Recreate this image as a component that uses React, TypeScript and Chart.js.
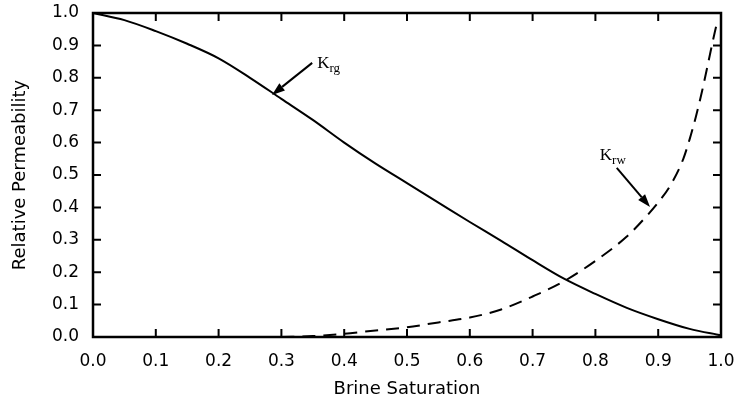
import { useEffect, useRef } from "react";
import { Chart, registerables } from "chart.js";

Chart.register(...registerables);

const xTicks = [0, 0.1, 0.2, 0.3, 0.4, 0.5, 0.6, 0.7, 0.8, 0.9, 1.0];
const yTicks = [0, 0.1, 0.2, 0.3, 0.4, 0.5, 0.6, 0.7, 0.8, 0.9, 1.0];

const krgX = [0, 0.05, 0.1, 0.15, 0.2, 0.25, 0.3, 0.35, 0.4, 0.45, 0.5, 0.55, 0.6, 0.65, 0.7, 0.75, 0.8, 0.85, 0.9, 0.95, 1.0];
const krgY = [1.0, 0.978, 0.944, 0.905, 0.86, 0.8, 0.735, 0.67, 0.6, 0.535, 0.475, 0.415, 0.355, 0.297, 0.237, 0.18, 0.133, 0.09, 0.055, 0.025, 0.005];

const krwX = [0.3, 0.35, 0.4, 0.45, 0.5, 0.55, 0.6, 0.65, 0.7, 0.75, 0.8, 0.85, 0.88, 0.9, 0.92, 0.94, 0.95, 0.96, 0.97, 0.98, 0.99, 0.995];
const krwY = [0.0, 0.003, 0.01, 0.02, 0.03, 0.045, 0.06, 0.085, 0.125, 0.172, 0.235, 0.31, 0.37, 0.415, 0.47, 0.55, 0.61, 0.68, 0.76, 0.85, 0.94, 0.98];

const xTitle = "Brine Saturation";
const yTitle = "Relative Permeability";

const krgNote = { main: "K", sub: "rg", lx: 0.357, ly: 0.83, fx: 0.349, fy: 0.846, tx: 0.285, ty: 0.747 };
const krwNote = { main: "K", sub: "rw", lx: 0.807, ly: 0.546, fx: 0.834, fy: 0.522, tx: 0.887, ty: 0.401 };

const framePlugin = {
  id: "frameTicks",
  afterDatasetsDraw(chart: any) {
    const { ctx, chartArea, scales } = chart;
    const { left, right, top, bottom } = chartArea;
    const x = scales.x;
    const y = scales.y;
    ctx.save();
    ctx.strokeStyle = "#000";
    ctx.lineWidth = 2.5;
    ctx.strokeRect(left, top, right - left, bottom - top);
    ctx.lineWidth = 2;
    const L = 8;
    ctx.beginPath();
    xTicks.forEach((v) => {
      if (v <= 0 || v >= 1) return;
      const px = x.getPixelForValue(v);
      ctx.moveTo(px, bottom);
      ctx.lineTo(px, bottom - L);
      ctx.moveTo(px, top);
      ctx.lineTo(px, top + L);
    });
    yTicks.forEach((v) => {
      if (v <= 0 || v >= 1) return;
      const py = y.getPixelForValue(v);
      ctx.moveTo(left, py);
      ctx.lineTo(left + L, py);
      ctx.moveTo(right, py);
      ctx.lineTo(right - L, py);
    });
    ctx.stroke();

    const notes = [krgNote, krwNote];
    notes.forEach((n) => {
      const fx = x.getPixelForValue(n.fx);
      const fy = y.getPixelForValue(n.fy);
      const tx = x.getPixelForValue(n.tx);
      const ty = y.getPixelForValue(n.ty);
      const ang = Math.atan2(ty - fy, tx - fx);
      const headLen = 13;
      const headW = 4.5;
      const bx = tx - headLen * Math.cos(ang);
      const by = ty - headLen * Math.sin(ang);
      ctx.lineWidth = 2;
      ctx.beginPath();
      ctx.moveTo(fx, fy);
      ctx.lineTo(bx, by);
      ctx.stroke();
      ctx.beginPath();
      ctx.moveTo(tx, ty);
      ctx.lineTo(bx + headW * Math.sin(ang), by - headW * Math.cos(ang));
      ctx.lineTo(bx - headW * Math.sin(ang), by + headW * Math.cos(ang));
      ctx.closePath();
      ctx.fillStyle = "#000";
      ctx.fill();

      const lx = x.getPixelForValue(n.lx);
      const ly = y.getPixelForValue(n.ly);
      ctx.textBaseline = "alphabetic";
      ctx.textAlign = "left";
      ctx.font = "17px 'Liberation Serif'";
      ctx.fillText(n.main, lx, ly);
      const w = ctx.measureText(n.main).width;
      ctx.font = "13px 'Liberation Serif'";
      ctx.fillText(n.sub, lx + w, ly + 4);
    });
    ctx.restore();
  },
};

const zeroPad = (s: any) => {
  s.paddingTop = 0;
  s.paddingBottom = 0;
  s.paddingLeft = 0;
  s.paddingRight = 0;
};

export default function App() {
  const ref = useRef<HTMLCanvasElement | null>(null);

  useEffect(() => {
    const canvas = ref.current;
    if (!canvas) return;
    const chart = new Chart(canvas, {
      type: "line",
      data: {
        datasets: [
          {
            label: "Krg",
            data: krgX.map((v, i) => ({ x: v, y: krgY[i] })),
            borderColor: "#000",
            borderWidth: 2,
            pointRadius: 0,
            fill: false,
            cubicInterpolationMode: "monotone",
          },
          {
            label: "Krw",
            data: krwX.map((v, i) => ({ x: v, y: krwY[i] })),
            borderColor: "#000",
            borderWidth: 2,
            borderDash: [13, 8],
            pointRadius: 0,
            fill: false,
            cubicInterpolationMode: "monotone",
          },
        ],
      },
      options: {
        responsive: false,
        animation: false,
        devicePixelRatio: 1,
        layout: { padding: { top: 13, right: 24, left: 0, bottom: 0 } },
        plugins: {
          legend: { display: false },
          tooltip: { enabled: false },
        },
        scales: {
          x: {
            type: "linear",
            min: 0,
            max: 1,
            afterBuildTicks: (s: any) => {
              s.ticks = xTicks.map((v) => ({ value: v }));
            },
            afterFit: (s: any) => {
              s.height = 72;
              zeroPad(s);
            },
            grid: { display: false, drawTicks: false },
            border: { display: false },
            ticks: {
              padding: 14,
              color: "#000",
              maxRotation: 0,
              autoSkip: false,
              font: { family: "'DejaVu Sans'", size: 17 },
              callback: (v: any) => Number(v).toFixed(1),
            },
            title: {
              display: true,
              text: xTitle,
              color: "#000",
              font: { family: "'DejaVu Sans'", size: 18 },
              padding: { top: 0, bottom: 9 },
            },
          },
          y: {
            type: "linear",
            min: 0,
            max: 1,
            afterBuildTicks: (s: any) => {
              s.ticks = yTicks.map((v) => ({ value: v }));
            },
            afterFit: (s: any) => {
              s.width = 93;
              zeroPad(s);
            },
            grid: { display: false, drawTicks: false },
            border: { display: false },
            ticks: {
              padding: 14,
              color: "#000",
              autoSkip: false,
              font: { family: "'DejaVu Sans'", size: 17 },
              callback: (v: any) => Number(v).toFixed(1),
            },
            title: {
              display: true,
              text: yTitle,
              color: "#000",
              font: { family: "'DejaVu Sans'", size: 18 },
              padding: { top: 10, bottom: 0 },
            },
          },
        },
      },
      plugins: [framePlugin],
    } as any);
    return () => chart.destroy();
  }, []);

  return (
    <div style={{ position: "absolute", left: 0, top: 0, width: 745, height: 409, background: "#fff" }}>
      <canvas ref={ref} width={745} height={409} />
    </div>
  );
}
